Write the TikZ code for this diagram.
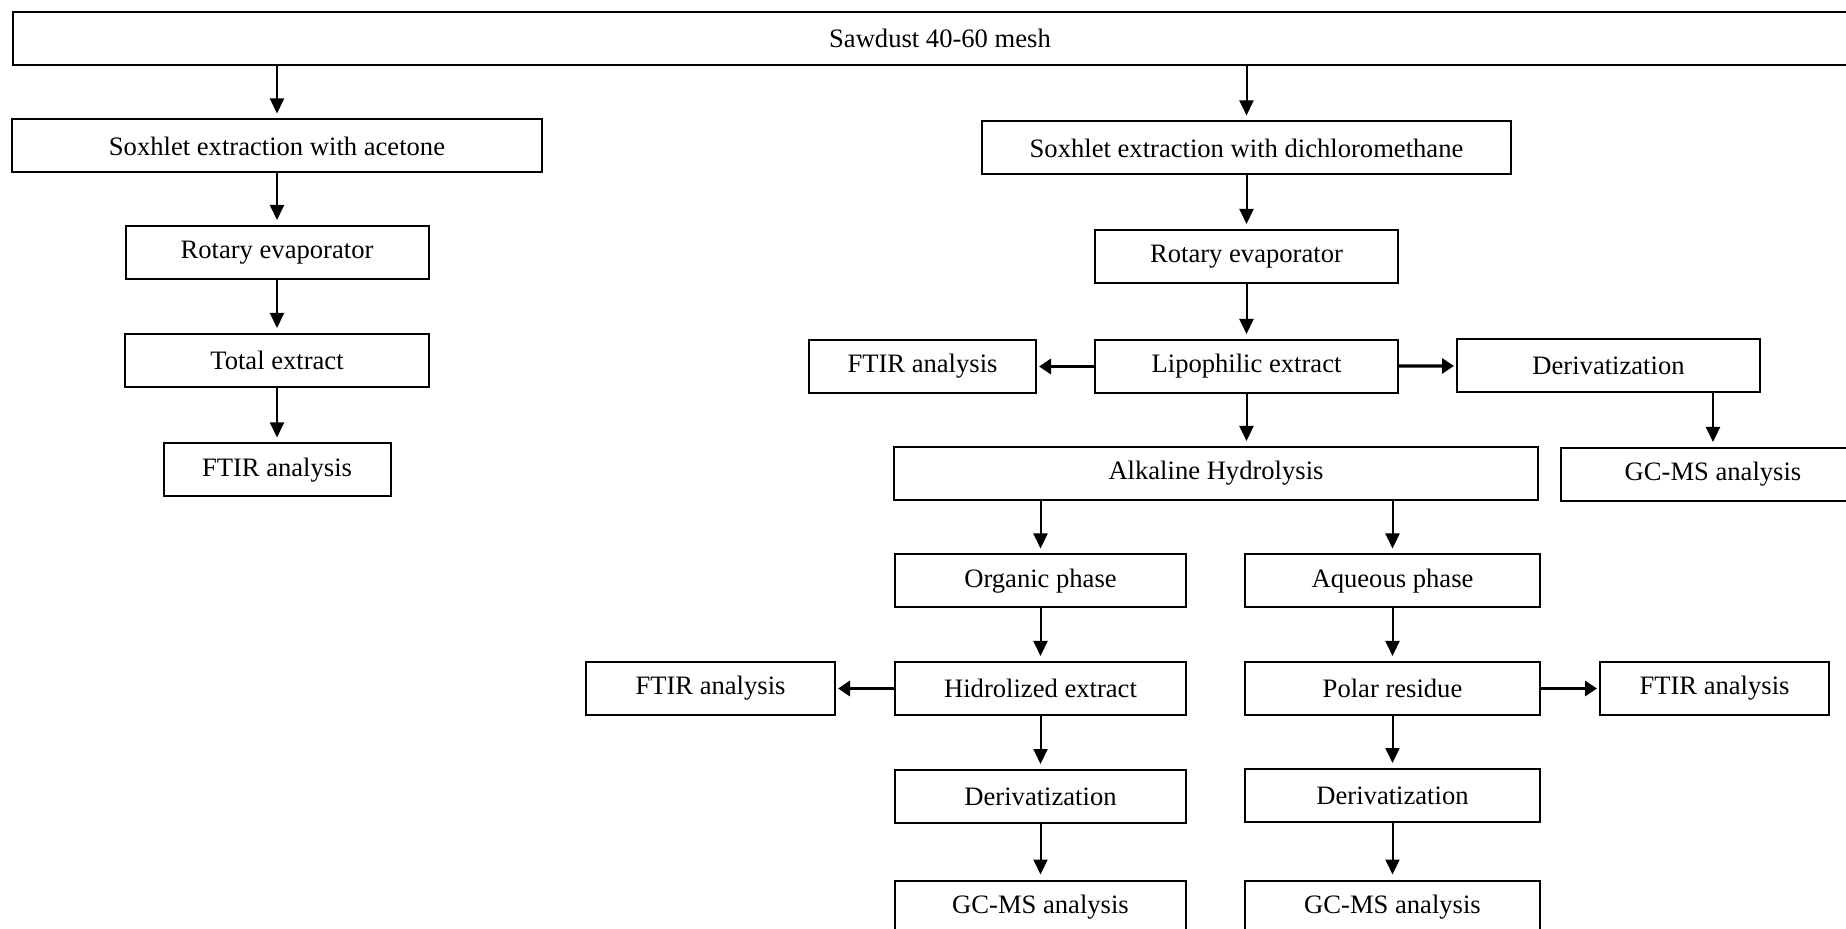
\documentclass[tikz,border=0pt]{standalone}
\usepackage{fontspec}
\setmainfont{Liberation Serif}
\usepackage{xcolor}
\usetikzlibrary{arrows.meta}

\begin{document}
\begin{tikzpicture}[x=0.5pt,y=-0.5pt,
		box/.style={draw,line width=1pt,inner sep=0pt,minimum height=26.5pt,font=\fontsize{13.3}{16}\selectfont},
		down/.style={-{Triangle[length=7.5pt,width=7pt]},line width=1pt,shorten >=2.5pt},
		side/.style={-{Triangle[length=6pt,width=7.5pt]},line width=1.6pt,shorten >=1pt}]
			\useasboundingbox (0,0) rectangle (1846,929);
			\node[box,minimum width=927pt] (saw) at (940,38.5) {Sawdust 40-60 mesh};
			\node[box,minimum width=265pt] (acet) at (277,146) {Soxhlet extraction with acetone};
			\node[box,minimum width=151.5pt] (rotL) at (277,252.5) {Rotary evaporator};
			\node[box,minimum width=152pt] (totL) at (277,360.5) {Total extract};
			\node[box,minimum width=113.5pt] (ftirL) at (277,470) {FTIR analysis};
			\node[box,minimum width=264.5pt] (dcm) at (1246.5,148) {Soxhlet extraction with dichloromethane};
			\node[box,minimum width=151.5pt] (rotR) at (1246.5,256.5) {Rotary evaporator};
			\node[box,minimum width=151.5pt] (lipo) at (1246.5,366.5) {Lipophilic extract};
			\node[box,minimum width=113.5pt] (ftirA) at (922.5,366.5) {FTIR analysis};
			\node[box,minimum width=151.5pt] (derT) at (1608.5,365.5) {Derivatization};
			\node[box,minimum width=152pt] (gcT) at (1713,474.5) {GC-MS analysis};
			\node[box,minimum width=322pt] (alk) at (1216,473.5) {Alkaline Hydrolysis};
			\node[box,minimum width=145.5pt] (org) at (1040.5,581) {Organic phase};
			\node[box,minimum width=147.5pt] (aq) at (1392.5,581) {Aqueous phase};
			\node[box,minimum width=145.5pt] (hid) at (1040.5,688.5) {Hidrolized extract};
			\node[box,minimum width=124.5pt] (ftirB) at (710.5,688.5) {FTIR analysis};
			\node[box,minimum width=147.5pt] (pol) at (1392.5,688.5) {Polar residue};
			\node[box,minimum width=114.5pt] (ftirC) at (1714.5,688.5) {FTIR analysis};
			\node[box,minimum width=145.5pt] (derL) at (1040.5,796.5) {Derivatization};
			\node[box,minimum width=147.5pt] (derR) at (1392.5,795.5) {Derivatization};
			\node[box,minimum width=145.5pt] (gcL) at (1040.5,907) {GC-MS analysis};
			\node[box,minimum width=147.5pt] (gcR) at (1392.5,907) {GC-MS analysis};
			\draw[down] (acet |- saw.south) -- (acet);
			\draw[down] (acet) -- (rotL);
			\draw[down] (rotL) -- (totL);
			\draw[down] (totL) -- (ftirL);
			\draw[down] (dcm |- saw.south) -- (dcm);
			\draw[down] (dcm) -- (rotR);
			\draw[down] (rotR) -- (lipo);
			\draw[down] (lipo) -- (lipo |- alk.north);
			\draw[side] (lipo) -- (ftirA);
			\draw[side] (lipo) -- (derT);
			\draw[down] (gcT |- derT.south) -- (gcT);
			\draw[down] (org |- alk.south) -- (org);
			\draw[down] (aq |- alk.south) -- (aq);
			\draw[down] (org) -- (hid);
			\draw[down] (aq) -- (pol);
			\draw[side] (hid) -- (ftirB);
			\draw[side] (pol) -- (ftirC);
			\draw[down] (hid) -- (derL);
			\draw[down] (pol) -- (derR);
			\draw[down] (derL) -- (gcL);
			\draw[down] (derR) -- (gcR);
		\end{tikzpicture}
\end{document}
